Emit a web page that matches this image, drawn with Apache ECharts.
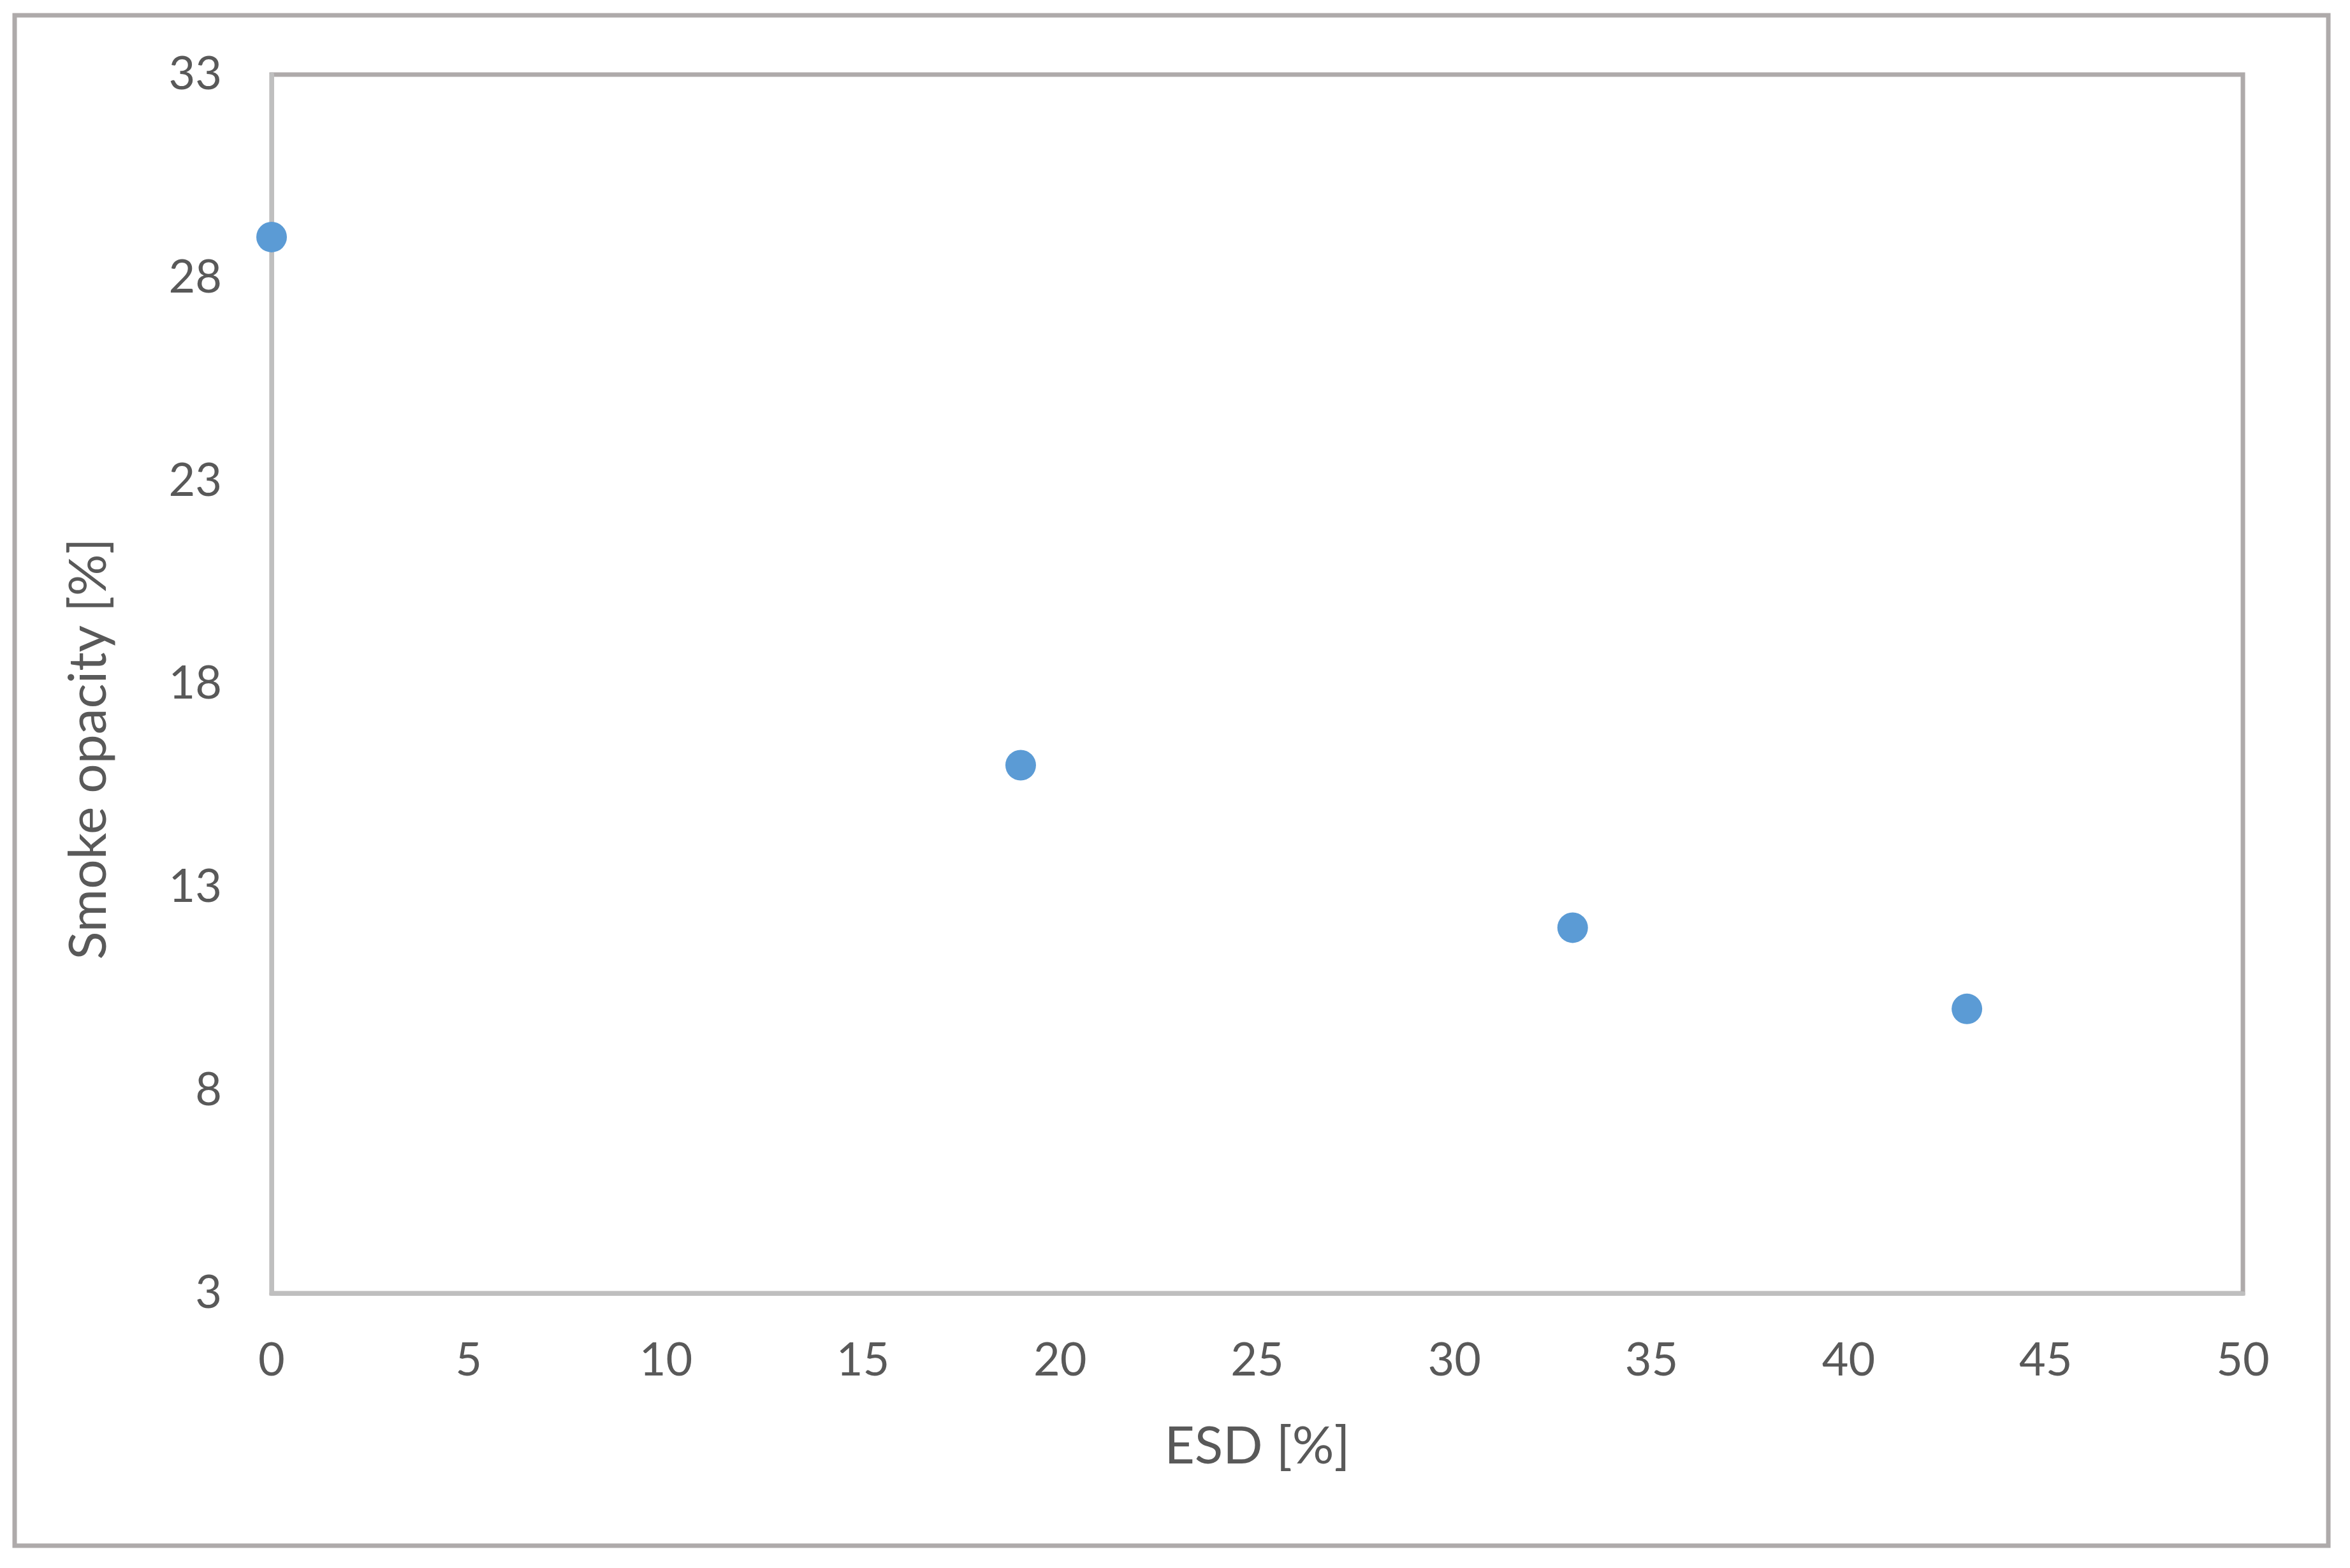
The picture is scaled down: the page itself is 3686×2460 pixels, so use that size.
<!DOCTYPE html>
<html>
<head>
<meta charset="utf-8">
<script src="https://cdn.jsdelivr.net/npm/echarts@6/dist/echarts.min.js"></script>
<style>
html,body{margin:0;padding:0;background:#fff;}
#chart{width:3686px;height:2460px;}
</style>
</head>
<body>
<div id="chart"></div>
<script>
// Data
var esd = [0, 19, 33, 43];
var smokeOpacity = [29, 16, 12, 10];
var xTitle = 'ESD [%]';
var yTitle = 'Smoke opacity [%]';

var points = esd.map(function (x, i) { return [x, smokeOpacity[i]]; });

var FONT = 'Lato, "Open Sans", sans-serif';
var chart = echarts.init(document.getElementById('chart'), null, {renderer: 'canvas'});
chart.setOption({
  animation: false,
  backgroundColor: '#ffffff',
  grid: {
    left: 426, right: 168, top: 117, bottom: 431,
    show: true, borderColor: '#AEAAAA', borderWidth: 7, backgroundColor: 'transparent'
  },
  graphic: [
    {
      type: 'rect', z: 0,
      shape: {x: 23, y: 24, width: 3629, height: 2401},
      style: {fill: 'none', stroke: '#AEAAAA', lineWidth: 7}
    },
    {
      type: 'text', z: 10,
      x: 140, y: 1175, rotation: Math.PI / 2,
      style: {
        text: yTitle, fill: '#595959', font: '82px ' + FONT,
        align: 'center', verticalAlign: 'middle'
      }
    }
  ],
  xAxis: {
    type: 'value', min: 0, max: 50, interval: 5,
    name: xTitle, nameLocation: 'middle', nameGap: 200,
    nameTextStyle: {color: '#595959', fontSize: 82, fontFamily: FONT},
    axisLine: {show: true, onZero: false, lineStyle: {color: '#BFBFBF', width: 7}},
    axisTick: {show: false},
    splitLine: {show: false},
    axisLabel: {color: '#595959', fontSize: 72, fontFamily: FONT, margin: 70}
  },
  yAxis: {
    type: 'value', min: 3, max: 33, interval: 5,
    axisLine: {show: true, onZero: false, lineStyle: {color: '#BFBFBF', width: 7}},
    axisTick: {show: false},
    splitLine: {show: false},
    axisLabel: {color: '#595959', fontSize: 72, fontFamily: FONT, margin: 78}
  },
  series: [{
    type: 'scatter',
    data: points,
    symbol: 'circle',
    symbolSize: 48,
    itemStyle: {color: '#5B9BD5', opacity: 1},
    z: 5
  }]
});
</script>
</body>
</html>
